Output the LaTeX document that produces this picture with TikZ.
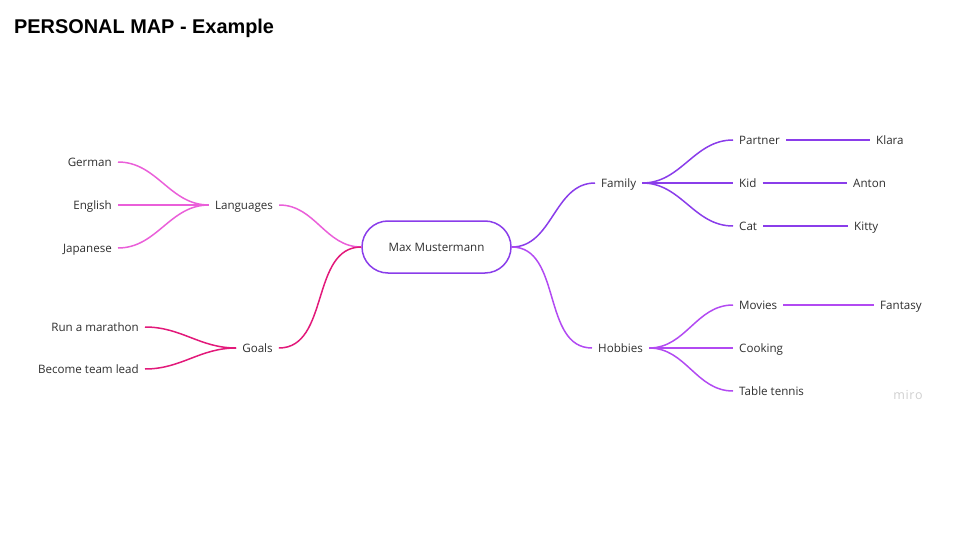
\documentclass[tikz,border=0pt]{standalone}
\usepackage{fontspec}
\setmainfont{Open Sans}
\newfontfamily\titlefont{Liberation Sans}
\definecolor{txtgray}{HTML}{2E2E2E}
\definecolor{langpink}{HTML}{EA5FD9}
\definecolor{goalred}{HTML}{E2197A}
\definecolor{famviolet}{HTML}{8A3DEA}
\definecolor{hobpurple}{HTML}{B24AF2}
\definecolor{logogray}{HTML}{CFCFCF}

\begin{document}
\begin{tikzpicture}[x=1pt,y=-1pt,
    leaf/.style={inner xsep=6pt,inner ysep=2pt,text=txtgray,font=\fontsize{11.6}{14}\selectfont,
                 text height=1.8ex,text depth=.3ex},
    hub/.style={draw=famviolet,line width=1.5pt,rounded corners=26pt,minimum width=149pt,
                minimum height=52pt,text=txtgray,font=\fontsize{11.6}{14}\selectfont},
    lng/.style={line width=1.5pt,langpink},
    gls/.style={line width=1.5pt,goalred},
    fam/.style={line width=1.5pt,famviolet},
    hob/.style={line width=1.5pt,hobpurple}]
    \useasboundingbox (0,0) rectangle (960,540);

    \node[anchor=base west,inner sep=0,font=\titlefont\bfseries\fontsize{19.9}{24}\selectfont] at (14,34) (title) {PERSONAL MAP - Example};

    % centre
    \node[hub] at (436.5,247) (max) {Max Mustermann};

    % left branches
    \node[leaf,anchor=center] at (244,205) (lang) {Languages};
    \node[leaf,anchor=east] at (118,162) (german) {German};
    \node[leaf,anchor=east] at (118,205) (english) {English};
    \node[leaf,anchor=east] at (118,248) (japanese) {Japanese};
    \node[leaf,anchor=center] at (257.5,348) (goals) {Goals};
    \node[leaf,anchor=east] at (145,327) (marathon) {Run a marathon};
    \node[leaf,anchor=east] at (145,369) (teamlead) {Become team lead};

    % right branches
    \node[leaf,anchor=west] at (595,183) (family) {Family};
    \node[leaf,anchor=west] at (733,140) (partner) {Partner};
    \node[leaf,anchor=west] at (733,183) (kid) {Kid};
    \node[leaf,anchor=west] at (733,226) (cat) {Cat};
    \node[leaf,anchor=west] at (870,140) (klara) {Klara};
    \node[leaf,anchor=west] at (847,183) (anton) {Anton};
    \node[leaf,anchor=west] at (848,226) (kitty) {Kitty};
    \node[leaf,anchor=west] at (592,348) (hobbies) {Hobbies};
    \node[leaf,anchor=west] at (733,305) (movies) {Movies};
    \node[leaf,anchor=west] at (733,348) (cooking) {Cooking};
    \node[leaf,anchor=west] at (733,391) (tennis) {Table tennis};
    \node[leaf,anchor=west] at (874,305) (fantasy) {Fantasy};

    \node[anchor=center,text=logogray,font=\fontsize{12.5}{14}\selectfont] at (908,395) (miro) {m\kern.6pt i\kern.6pt r\kern.6pt o};

    \draw[lng] (lang.east) to[out=0,in=180] (max.west);
    \draw[lng] (german.east) to[out=0,in=180] (lang.west);
    \draw[lng] (english.east) to[out=0,in=180] (lang.west);
    \draw[lng] (japanese.east) to[out=0,in=180] (lang.west);

    \draw[gls] (goals.east) to[out=0,in=180] (max.west);
    \draw[gls] (marathon.east) to[out=0,in=180] (goals.west);
    \draw[gls] (teamlead.east) to[out=0,in=180] (goals.west);

    \draw[fam] (max.east) to[out=0,in=180] (family.west);
    \draw[fam] (family.east) to[out=0,in=180] (partner.west);
    \draw[fam] (family.east) to[out=0,in=180] (kid.west);
    \draw[fam] (family.east) to[out=0,in=180] (cat.west);
    \draw[fam] (partner.east) -- (klara.west);
    \draw[fam] (kid.east) -- (anton.west);
    \draw[fam] (cat.east) -- (kitty.west);

    \draw[hob] (max.east) to[out=0,in=180] (hobbies.west);
    \draw[hob] (hobbies.east) to[out=0,in=180] (movies.west);
    \draw[hob] (hobbies.east) to[out=0,in=180] (cooking.west);
    \draw[hob] (hobbies.east) to[out=0,in=180] (tennis.west);
    \draw[hob] (movies.east) -- (fantasy.west);
\end{tikzpicture}
\end{document}
